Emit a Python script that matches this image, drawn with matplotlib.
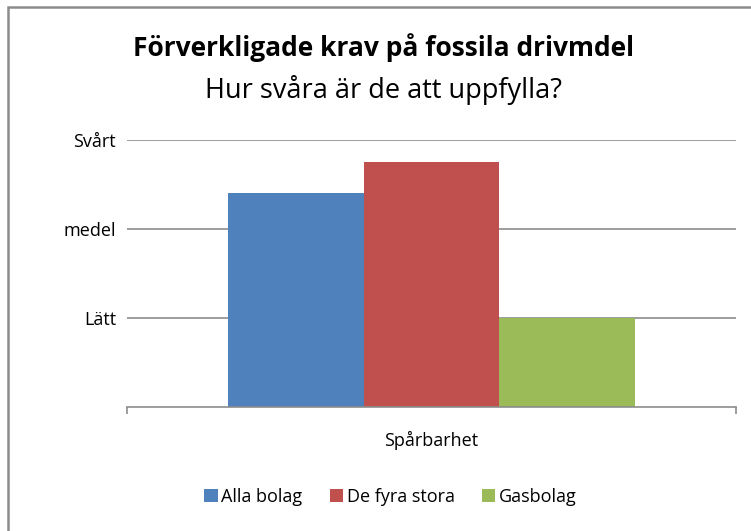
import matplotlib.pyplot as plt
from matplotlib.patches import Rectangle

plt.rcParams["font.family"] = ["Open Sans", "DejaVu Sans"]

# data
category = ["Spårbarhet"]
series = ["Alla bolag", "De fyra stora", "Gasbolag"]
values = [2.41, 2.75, 1.0]
colors = ["#4F81BD", "#C0504D", "#9BBB59"]
level_ticks = [1, 2, 3]
level_labels = ["Lätt", "medel", "Svårt"]

fig = plt.figure(figsize=(7.51, 5.31), dpi=100)
ax = fig.add_axes([0.1691, 0.2335, 0.8110, 0.5028])

# ram runt diagrammet
fig.patches.append(
    Rectangle((8 / 751, -0.1), 1.2, 1 - 7 / 531 + 0.1, transform=fig.transFigure,
              fill=False, edgecolor="#8c8c8c", linewidth=1.8)
)

width = 0.223
for i, (name, val, col) in enumerate(zip(series, values, colors)):
    ax.bar(0 + (i - 1) * width, val, width, color=col, label=name, zorder=2)

ax.set_xlim(-0.5, 0.5)
ax.set_ylim(0, 3)
ax.set_yticks(level_ticks)
ax.set_yticklabels(level_labels, fontsize=13)
ax.tick_params(axis="y", length=0, pad=8)
ax.yaxis.grid(True, color="#8c8c8c", linewidth=1.2, zorder=0)

ax.set_xticks([0])
ax.set_xticklabels(category, fontsize=13)
ax.set_xticks([-0.5, 0.5], minor=True)
ax.tick_params(axis="x", which="major", length=0, pad=17)
ax.tick_params(axis="x", which="minor", length=5, width=1.2, color="#8c8c8c")

for s in ["top", "right", "left"]:
    ax.spines[s].set_visible(False)
ax.spines["bottom"].set_color("#8c8c8c")
ax.spines["bottom"].set_linewidth(1.2)

fig.text(0.51, 1 - 48 / 531, "Förverkligade krav på fossila drivmdel",
         ha="center", va="center", fontsize=19, fontweight="bold")
fig.text(0.51, 1 - 90 / 531, "Hur svåra är de att uppfylla?",
         ha="center", va="center", fontsize=19.5)

fig.legend(loc="center", bbox_to_anchor=(0.52, 1 - 497 / 531), ncol=3,
           frameon=False, fontsize=13, handlelength=0.75, handleheight=0.75,
           handletextpad=0.2, columnspacing=1.5)

fig.savefig("out.png", dpi=100)
